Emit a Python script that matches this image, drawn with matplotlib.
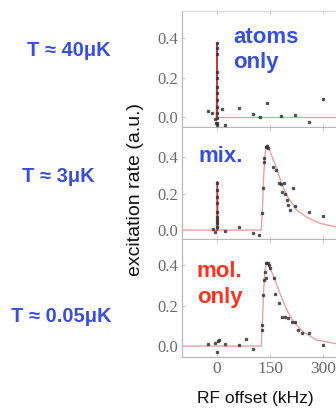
import matplotlib
matplotlib.use("Agg")
import matplotlib.pyplot as plt

# ---------------- data ----------------
# panel 1: atoms only
atoms_x = [0, 0, 0, 0, 0, 0, 0, 0, 0, 0, 0, 0,
           -25, -15, -6, -3, 1, 23, 13, 63, 103, 122, 141, 180, 221, 261, 299]
atoms_y = [0.373, 0.348, 0.32, 0.23, 0.196, 0.153, 0.12, 0.086, 0.052, 0.019, -0.007, -0.03,
           0.03, 0.019, -0.012, -0.03, -0.04, -0.04, 0.039, 0.044, 0.015, -0.002, 0.073, 0.007, 0.008, -0.025, 0.09]
atoms_peak_x = [-1.5, 0, 1.5]
atoms_peak_y = [0.0, 0.375, 0.0]
atoms_base_x = [0, 376]
atoms_base_y = [0.0, 0.0]

# panel 2: mixture
mix_x = [1, 1, 1, 1, 1, 1, 1, 1, 1,
         -10, -5, 23, 63, 103, 120,
         126, 131, 134, 139, 142, 145, 133, 159, 167, 174, 180, 188, 183, 192, 197, 202, 207, 216, 221, 261, 301]
mix_y = [0.256, 0.219, 0.183, 0.146, 0.1, 0.073, 0.055, 0.037, 0.018,
         0.004, -0.009, -0.004, 0.015, -0.015, -0.027,
         0.091, 0.228, 0.374, 0.457, 0.46, 0.448, 0.393, 0.347, 0.329, 0.256, 0.25, 0.256, 0.21, 0.2, 0.164, 0.137, 0.11, 0.228, 0.132, 0.1, 0.078]
mix_peak_x = [-0.5, 1, 2.5]
mix_peak_y = [0.0, 0.265, 0.0]
mix_fit_x = [-99, 125, 128, 132, 136, 140, 145, 150, 160, 167, 183, 202, 225, 254, 291, 334, 376]
mix_fit_y = [0.0, 0.0, 0.1, 0.3, 0.42, 0.465, 0.455, 0.43, 0.38, 0.347, 0.25, 0.175, 0.11, 0.07, 0.037, 0.018, 0.01]

# panel 3: molecules only
mol_x = [-25, -6, 2, 5, -1, 23, 63, 82, 103,
         126, 128, 131, 133, 139, 136, 139, 143, 148, 150, 161, 164, 174, 183, 192, 202, 211, 221, 230, 240, 261, 301]
mol_y = [0.008, 0.016, 0.025, 0.03, -0.028, 0.008, 0.005, 0.035, -0.012,
         0.079, 0.104, 0.252, 0.327, 0.335, 0.368, 0.41, 0.412, 0.4, 0.385, 0.335, 0.26, 0.211, 0.145, 0.142, 0.137, 0.12, 0.12, 0.079, 0.066, 0.066, 0.005]
mol_fit_x = [-99, 125, 128, 132, 136, 141, 159, 178, 197, 216, 244, 282, 334, 376]
mol_fit_y = [0.0, 0.0, 0.1, 0.28, 0.38, 0.417, 0.35, 0.26, 0.18, 0.12, 0.07, 0.03, 0.013, 0.008]

xticks = [0, 150, 300]
xticklabels = ["0", "150", "300"]
yticks = [0.0, 0.2, 0.4]
yticklabels = ["0.0", "0.2", "0.4"]
temps = ["T ≈ 40μK", "T ≈ 3μK", "T ≈ 0.05μK"]

# ---------------- figure ----------------
W, H = 336, 412
fig = plt.figure(figsize=(W / 100, H / 100), dpi=100)

def fx(px):
    return px / W

def fy(py):
    return 1 - py / H

xl = (-99, 376)
left_px, right_px = 182, 350

panels = [
    # top_px, bottom_px, ylim
    (11, 127, (-0.0506, 0.537)),
    (128, 239, (-0.049, 0.559)),
    (240, 357, (-0.054, 0.525)),
]

BLUE = "#3a4fd6"
RED = "#ff3322"
PINK = "#e2a4a4"
DARKRED = "#c83a3a"
TICKCOL = "#6a6a6a"

axes = []
for i, (top, bot, yl) in enumerate(panels):
    ax = fig.add_axes([fx(left_px), fy(bot), fx(right_px - left_px), (bot - top) / H])
    ax.set_xlim(*xl)
    ax.set_ylim(*yl)
    ax.set_xticks(xticks)
    ax.set_yticks(yticks)
    ax.set_yticklabels(yticklabels, fontfamily="Liberation Serif", fontsize=12, color=TICKCOL)
    ax.tick_params(axis="both", direction="in", length=2.5, color="#bbbbbb", width=0.6,
                   top=True, bottom=True, left=True, right=False, pad=3)
    if i == 2:
        ax.set_xticklabels(xticklabels, fontfamily="Liberation Serif", fontsize=12.5, color=TICKCOL)
    else:
        ax.set_xticklabels([])
    for s in ["left", "bottom"]:
        ax.spines[s].set_color("#b8b8b8")
        ax.spines[s].set_linewidth(0.9)
    ax.spines["right"].set_visible(False)
    ax.spines["top"].set_visible(i == 0)
    ax.spines["top"].set_color("#d8d8d8")
    ax.spines["top"].set_linewidth(0.9)
    axes.append(ax)

ax1, ax2, ax3 = axes
msty = dict(marker="s", markersize=1.8, color="#333333", linestyle="none", alpha=0.75, zorder=3)

ax1.plot(atoms_base_x, atoms_base_y, color=PINK, lw=1.0, zorder=1)
ax1.plot(atoms_peak_x, atoms_peak_y, color=DARKRED, lw=1.0, zorder=2)
ax1.plot(atoms_x, atoms_y, **msty)

ax2.plot(mix_fit_x, mix_fit_y, color=PINK, lw=1.0, zorder=1)
ax2.plot(mix_peak_x, mix_peak_y, color=DARKRED, lw=1.0, zorder=2)
ax2.plot(mix_x, mix_y, **msty)

ax3.plot(mol_fit_x, mol_fit_y, color=PINK, lw=1.0, zorder=1)
ax3.plot(mol_x, mol_y, **msty)

# panel labels
lab = dict(fontfamily="Liberation Sans", fontweight="bold", fontsize=16, va="baseline", ha="left")
fig.text(fx(233), fy(43), "atoms", color=BLUE, **lab)
fig.text(fx(233), fy(68), "only", color=BLUE, **lab)
fig.text(fx(198), fy(162), "mix.", color=BLUE, **lab)
fig.text(fx(197), fy(277), "mol.", color=RED, **lab)
fig.text(fx(197), fy(303), "only", color=RED, **lab)

# temperature labels
tl = dict(fontfamily=["Liberation Sans", "DejaVu Sans"], fontweight="bold", fontsize=14.5,
          color=BLUE, ha="center", va="center")
fig.text(fx(68.5), fy(50), temps[0], **tl)
fig.text(fx(58.5), fy(177), temps[1], **tl)
fig.text(fx(61), fy(317), temps[2], **tl)

# axis labels
fig.text(fx(136), fy(189), "excitation rate (a.u.)", rotation=90, ha="center", va="center",
         fontfamily="Liberation Sans", fontsize=14, color="#111111")
fig.text(fx(255), fy(398), "RF offset (kHz)", ha="center", va="center",
         fontfamily="Liberation Sans", fontsize=12.5, color="#111111")

fig.savefig("out.png", dpi=100)
